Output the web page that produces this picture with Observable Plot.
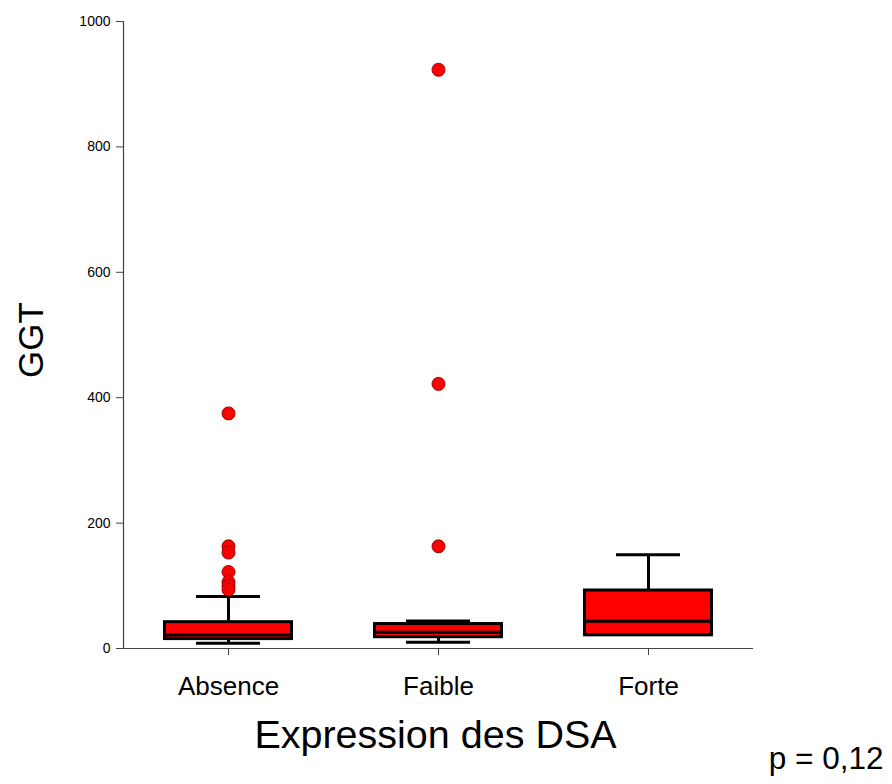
<!DOCTYPE html>
<html>
<head>
<meta charset="utf-8">
<script src="https://cdn.jsdelivr.net/npm/d3@7"></script>
<script src="https://cdn.jsdelivr.net/npm/@observablehq/plot@0.6"></script>
<style>
  html, body { margin: 0; padding: 0; background: #fff; }
  #chart svg { display: block; font-family: "Liberation Sans", Arial, Helvetica, sans-serif; }
</style>
</head>
<body>
<div id="chart"></div>
<script>
// Categories and box summary statistics
const categories = ["Absence", "Faible", "Forte"];
const whiskerLow  = [8.5, 10, 21];
const q1          = [15, 18, 21];
const medians     = [21.5, 26, 43.5];
const q3          = [42, 39, 92.5];
const whiskerHigh = [83, 44, 149.5];

// Outliers
const outlierCats   = ["Absence","Absence","Absence","Absence","Absence","Absence","Absence","Faible","Faible","Faible"];
const outlierValues = [375, 163, 153, 122, 106, 100, 94, 923, 422, 163];

const yTicks = [0, 200, 400, 600, 800, 1000];
const xTitle = "Expression des DSA";
const yTitle = "GGT";
const pText = "p = 0,12";

const boxes = categories.map((c, i) => ({
  cat: c, lo: whiskerLow[i], q1: q1[i], med: medians[i], q3: q3[i], hi: whiskerHigh[i]
}));
const lowerWhiskers = boxes.filter(b => b.lo < b.q1);
const outliers = outlierCats.map((c, i) => ({cat: c, v: outlierValues[i]}));

const bandW = 210;
const boxInset = (bandW - 127) / 2;
const capInset = (bandW - 64) / 2;
const axisColor = "#444";

const chart = Plot.plot({
  width: 892,
  height: 784,
  marginLeft: 123,
  marginRight: 139,
  marginTop: 21,
  marginBottom: 136,
  style: {fontFamily: '"Liberation Sans", Arial, Helvetica, sans-serif', background: "#fff"},
  x: {type: "band", domain: categories, padding: 0, axis: null},
  y: {domain: [0, 1000], axis: null},
  marks: [
    Plot.frame({anchor: "left", stroke: axisColor, strokeWidth: 1.2}),
    Plot.ruleY([0], {stroke: axisColor, strokeWidth: 1.2}),
    Plot.axisY({ticks: yTicks, tickFormat: d => String(d), tickSize: 7, tickPadding: 6, fontSize: 14, label: null, stroke: axisColor, fill: "#000"}),
    Plot.axisX({tickSize: 7, tickPadding: 21, fontSize: 26, label: null, stroke: axisColor, fill: "#000"}),
    // whiskers
    Plot.ruleX(boxes, {x: "cat", y1: "q3", y2: "hi", stroke: "#000", strokeWidth: 3}),
    Plot.ruleX(lowerWhiskers, {x: "cat", y1: "lo", y2: "q1", stroke: "#000", strokeWidth: 3}),
    // box
    Plot.barY(boxes, {x: "cat", y1: "q1", y2: "q3", fill: "#ff0000", stroke: "#000", strokeWidth: 3, insetLeft: boxInset, insetRight: boxInset}),
    // median
    Plot.tickY(boxes, {x: "cat", y: "med", stroke: "#000", strokeWidth: 3, insetLeft: boxInset, insetRight: boxInset}),
    // caps
    Plot.tickY(boxes, {x: "cat", y: "hi", stroke: "#000", strokeWidth: 3, insetLeft: capInset, insetRight: capInset}),
    Plot.tickY(lowerWhiskers, {x: "cat", y: "lo", stroke: "#000", strokeWidth: 3, insetLeft: capInset, insetRight: capInset}),
    // outliers
    Plot.dot(outliers, {x: "cat", y: "v", r: 6.5, fill: "#ff0000", stroke: "#a00000", strokeWidth: 1}),
    // titles
    Plot.text([xTitle], {frameAnchor: "bottom", text: d => d, fontSize: 39.5, fill: "#000", textAnchor: "middle", lineAnchor: "bottom", dx: -3, dy: 99}),
    Plot.text([yTitle], {frameAnchor: "left", text: d => d, fontSize: 35, fill: "#000", rotate: -90, textAnchor: "middle", lineAnchor: "bottom", dx: -81, dy: 5}),
    Plot.text([pText], {frameAnchor: "bottom-right", text: d => d, fontSize: 31.5, fill: "#000", textAnchor: "end", lineAnchor: "bottom", dx: 130, dy: 120})
  ]
});
document.getElementById("chart").appendChild(chart);
</script>
</body>
</html>
